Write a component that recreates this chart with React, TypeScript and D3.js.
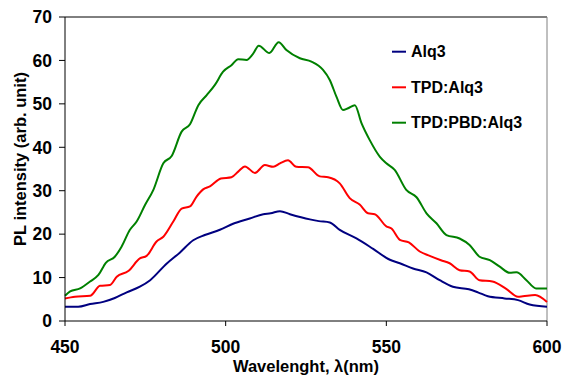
import React from "react";
import * as d3 from "d3";

const seriesNames = ["Alq3", "TPD:Alq3", "TPD:PBD:Alq3"];
const seriesColors = ["#000080", "#FF0000", "#008000"];

const alq3WL = [450, 454.1, 457.8, 461.9, 465.5, 469.2, 473.3, 476.5, 481.6, 485.8, 489.9, 493.5, 498.2, 502.3, 507.5, 511.7, 514, 516.9, 520, 526.2, 529, 532.4, 535.5, 540.7, 545.9, 551.1, 554.2, 558.3, 562.5, 566.6, 570.7, 575.7, 578.5, 581.6, 586.8, 591, 594.6, 600];
const alq3Val = [3.3, 3.3, 3.9, 4.4, 5.3, 6.6, 7.9, 9.4, 13.2, 15.8, 18.6, 19.8, 21.0, 22.4, 23.6, 24.6, 24.8, 25.3, 24.6, 23.4, 23.0, 22.7, 21.0, 19.0, 16.6, 14.1, 13.3, 12.1, 11.2, 9.4, 7.9, 7.3, 6.6, 5.7, 5.2, 4.8, 3.8, 3.3];

const tpdWL = [450, 453.1, 457.8, 460.9, 464, 466.1, 469.7, 473.3, 475.4, 478.5, 480.6, 483.7, 486.3, 488.9, 490.9, 493, 495.1, 498.5, 501.8, 503.9, 506, 509.1, 512.2, 514.8, 516.9, 519.4, 522, 525.6, 529.3, 531.9, 535.5, 538.6, 541.7, 544.3, 546.4, 550, 551.6, 554.2, 557, 560.4, 563.5, 567, 569.7, 572.8, 575.9, 579, 583, 587.3, 591, 592.5, 596.3, 600];
const tpdVal = [5.2, 5.6, 5.8, 8.1, 8.3, 10.2, 11.5, 14.4, 15.0, 18.3, 19.4, 22.9, 25.9, 26.4, 28.6, 30.3, 31.0, 32.8, 33.1, 34.4, 35.6, 34.1, 35.9, 35.5, 36.3, 37.0, 35.5, 35.4, 33.3, 33.1, 31.7, 28.3, 26.8, 24.8, 24.6, 21.8, 21.3, 18.7, 18.1, 16.0, 15.0, 14.0, 13.3, 11.7, 11.4, 9.4, 9.1, 7.4, 5.6, 5.7, 6.0, 4.4];

const pbdWL = [450, 451.6, 454.7, 457.8, 460.4, 462.7, 465.5, 467.6, 470.2, 472.3, 474.9, 477.5, 480.6, 483.2, 486.3, 488.9, 491.5, 494.1, 496.6, 499.2, 501.8, 503.9, 506.5, 508.5, 510.3, 513.6, 516.5, 518.9, 523.1, 526.7, 530.3, 532.4, 534.5, 536.5, 538.1, 540.2, 542.3, 544.8, 548, 550, 552.6, 556.2, 559.4, 562.5, 565.6, 568.7, 572.8, 575.9, 579, 582.2, 585.3, 588.4, 590.5, 593.6, 596.6, 600];
const pbdVal = [5.8, 6.8, 7.5, 9.1, 10.6, 13.4, 14.8, 17.1, 21.0, 22.9, 26.7, 30.2, 36.3, 38.0, 43.6, 45.3, 49.7, 52.0, 54.3, 57.4, 58.9, 60.3, 60.1, 61.5, 63.4, 61.7, 64.2, 62.4, 60.5, 59.7, 57.8, 55.5, 51.6, 48.6, 49.0, 49.7, 45.5, 41.7, 37.8, 36.3, 34.8, 30.2, 28.5, 24.8, 22.5, 19.8, 19.0, 17.5, 14.8, 14.0, 12.5, 11.1, 11.2, 9.4, 7.5, 7.5];

const xTicks = [450, 500, 550, 600];
const yTicks = [0, 10, 20, 30, 40, 50, 60, 70];

const W = 565;
const H = 378;
const M = { left: 65, right: 547, top: 17, bottom: 321 };
const FONT = "'Liberation Sans', Arial, sans-serif";

export default function App() {
  const x = d3.scaleLinear().domain([450, 600]).range([M.left, M.right]);
  const y = d3.scaleLinear().domain([0, 70]).range([M.bottom, M.top]);
  const line = d3
    .line<[number, number]>()
    .x((d) => x(d[0]))
    .y((d) => y(d[1]))
    .curve(d3.curveMonotoneX);

  const series = [
    d3.zip(alq3WL, alq3Val) as [number, number][],
    d3.zip(tpdWL, tpdVal) as [number, number][],
    d3.zip(pbdWL, pbdVal) as [number, number][],
  ];

  const legendY = [51.7, 87.3, 122.7];

  return (
    <svg
      width={W}
      height={H}
      style={{ position: "absolute", left: 0, top: 0, background: "#fff" }}
      fontFamily={FONT}
      fontWeight="bold"
    >
      <line x1={M.left} x2={M.right} y1={M.top} y2={M.top} stroke="#000" strokeWidth={1} />
      <line x1={M.right} x2={M.right} y1={M.top} y2={M.bottom} stroke="#808080" strokeWidth={1} />
      {series.map((s, i) => (
        <path key={i} d={line(s) || ""} fill="none" stroke={seriesColors[i]} strokeWidth={2} strokeLinejoin="round" />
      ))}
      <line x1={M.left} x2={M.left} y1={M.top} y2={M.bottom} stroke="#000" strokeWidth={1} />
      <line x1={M.left} x2={M.right} y1={M.bottom} y2={M.bottom} stroke="#000" strokeWidth={1} />
      {yTicks.map((t) => (
        <g key={t}>
          <line x1={M.left - 6} x2={M.left} y1={y(t)} y2={y(t)} stroke="#000" />
          <text x={52} y={y(t) + 6.3} textAnchor="end" fontSize={17.5} fill="#000">
            {t}
          </text>
        </g>
      ))}
      {xTicks.map((t) => (
        <g key={t}>
          <line x1={x(t)} x2={x(t)} y1={M.bottom} y2={M.bottom + 5} stroke="#000" />
          <text x={x(t)} y={353} textAnchor="middle" fontSize={17.5} fill="#000">
            {t}
          </text>
        </g>
      ))}
      <text x={306} y={372} textAnchor="middle" fontSize={16.5} fill="#000">
        Wavelenght, λ(nm)
      </text>
      <text
        transform="translate(26,159) rotate(-90)"
        textAnchor="middle"
        fontSize={16.5}
        fill="#000"
      >
        PL intensity (arb. unit)
      </text>
      {seriesNames.map((n, i) => (
        <g key={n}>
          <line x1={392} x2={406} y1={legendY[i]} y2={legendY[i]} stroke={seriesColors[i]} strokeWidth={2} />
          <text x={411} y={legendY[i] + 5.7} fontSize={16} fill="#000">
            {n}
          </text>
        </g>
      ))}
    </svg>
  );
}
